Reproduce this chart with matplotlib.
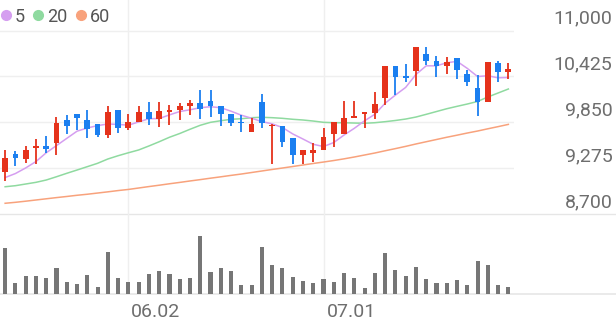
import matplotlib
matplotlib.use('Agg')
import matplotlib.pyplot as plt
from matplotlib.lines import Line2D

# daily candles (50 trading days)
opens = [9230, 9450, 9390, 9530, 9550, 9590, 9880, 9960, 9880, 9830,
         9690, 10000, 9780, 9860, 9980, 9890, 9980, 10000, 10050, 10090,
         10120, 10060, 9950, 9860, 9730, 10110, 9800, 9810, 9650, 9440,
         9470, 9500, 9710, 9700, 9910, 9950, 9970, 10160, 10560, 10430,
         10490, 10710, 10620, 10550, 10650, 10460, 10280, 10110, 10590, 10480]
highs = [9500, 9490, 9560, 9640, 9680, 9920, 9940, 9960, 10000, 9830,
         10060, 10010, 9950, 10050, 10110, 10110, 10070, 10090, 10130, 10250,
         10260, 10060, 9950, 9940, 9900, 10210, 9830, 9810, 9650, 9510,
         9590, 9780, 9860, 10120, 10120, 9980, 10230, 10550, 10560, 10580,
         10790, 10790, 10680, 10670, 10650, 10510, 10440, 10610, 10620, 10590]
lows = [9120, 9300, 9340, 9330, 9470, 9440, 9710, 9750, 9650, 9670,
        9650, 9720, 9750, 9850, 9820, 9790, 9820, 9880, 9940, 9890,
        9920, 9800, 9800, 9730, 9730, 9780, 9330, 9540, 9330, 9330,
        9350, 9500, 9540, 9700, 9910, 9780, 9890, 10070, 10190, 10360,
        10300, 10570, 10420, 10450, 10390, 10310, 9930, 10110, 10350, 10390]
closes = [9410, 9400, 9500, 9550, 9520, 9840, 9810, 9900, 9770, 9690,
          9980, 9780, 9850, 9980, 9890, 9990, 10010, 10060, 10090, 10020,
          10050, 9950, 9840, 9840, 9830, 9840, 9810, 9610, 9440, 9510,
          9510, 9670, 9860, 9910, 9930, 9980, 10080, 10550, 10420, 10410,
          10790, 10620, 10550, 10610, 10500, 10350, 10110, 10600, 10480, 10520]

# moving averages as drawn
ma5 = [9160, 9210, 9280, 9360, 9470, 9560, 9650, 9740, 9780, 9810,
       9830, 9825, 9815, 9856, 9896, 9898, 9944, 9986, 10008, 10034,
       10046, 10034, 9990, 9940, 9902, 9860, 9832, 9786, 9706, 9642,
       9576, 9548, 9598, 9692, 9776, 9870, 9952, 10090, 10192, 10288,
       10450, 10558, 10558, 10596, 10614, 10526, 10424, 10434, 10408, 10412]
ma20 = [9045, 9058, 9079, 9100, 9129, 9170, 9213, 9254, 9296, 9338,
        9392, 9433, 9470, 9505, 9555, 9608, 9664, 9711, 9764, 9814,
        9851, 9871, 9889, 9896, 9909, 9914, 9909, 9901, 9889, 9880,
        9867, 9851, 9846, 9846, 9842, 9839, 9846, 9859, 9874, 9892,
        9917, 9951, 9986, 10021, 10051, 10080, 10112, 10168, 10218, 10268]
ma60 = [8838, 8850, 8864, 8879, 8894, 8909, 8923, 8938, 8951, 8966,
        8981, 8997, 9011, 9029, 9047, 9064, 9082, 9099, 9117, 9134,
        9152, 9169, 9187, 9204, 9223, 9242, 9261, 9279, 9298, 9317,
        9336, 9354, 9373, 9394, 9417, 9442, 9467, 9495, 9522, 9550,
        9580, 9608, 9636, 9664, 9690, 9717, 9742, 9770, 9797, 9825]

# volume (thousand shares)
volumes = [463, 113, 177, 177, 160, 263, 117, 100, 190, 70,
           423, 160, 117, 123, 203, 227, 197, 150, 163, 583,
           220, 257, 230, 87, 90, 470, 287, 260, 167, 127,
           113, 153, 123, 210, 157, 60, 210, 407, 237, 177,
           273, 150, 107, 113, 140, 93, 333, 290, 87, 73]

price_ticks = [11000, 10425, 9850, 9275, 8700]
date_tick_idx = [12, 31]
date_tick_labels = ['06.02', '07.01']

ma_labels = ['5', '20', '60']
ma_colors = ['#d59ef0', '#8fdaa0', '#f8a27c']
UP = '#e5321b'
DOWN = '#1b7ff0'
GRID = '#efefef'
TEXT = '#6e6e6e'

plt.rcParams['font.family'] = ['Roboto', 'DejaVu Sans']

W, H = 616, 321
fig = plt.figure(figsize=(W / 100, H / 100), dpi=100)

# panel geometry in pixels
plot_w = 513.5
price_bottom = 214.3
vol_bottom = 294.0
ax = fig.add_axes([0, 1 - price_bottom / H, plot_w / W, price_bottom / H])
axv = fig.add_axes([0, 1 - vol_bottom / H, plot_w / W, (vol_bottom - price_bottom) / H])

n = len(closes)
xs = list(range(n))
px_per_unit = (214.3 - 30.5) / (11000 - 8700)
ax.set_ylim(8700, 11000 + 30.5 / px_per_unit)
for a in (ax, axv):
    a.set_xlim(-0.5, n - 0.5)
    a.axis('off')

# grid
for p in price_ticks[:-1]:
    ax.axhline(p, color=GRID, linewidth=1.0, zorder=0)
ax.axhline(price_ticks[-1], xmin=0, xmax=W / plot_w, color='#e6e6e6',
           linewidth=1.0, clip_on=False, zorder=0)
for i in date_tick_idx:
    ax.axvline(i, color=GRID, linewidth=1.0, zorder=0)
    axv.axvline(i, color=GRID, linewidth=1.0, zorder=0)

# moving averages
for vals, col in zip([ma60, ma20, ma5], ma_colors[::-1]):
    ax.plot(xs, vals, color=col, linewidth=1.1, zorder=2)

# candles
for i in xs:
    o, h, l, c = opens[i], highs[i], lows[i], closes[i]
    col = UP if c >= o else DOWN
    ax.vlines(i, l, h, color=col, linewidth=1.3, zorder=3)
    ax.bar(i, max(abs(c - o), 15), bottom=min(o, c), width=0.56,
           color=col, linewidth=0, zorder=4)

# price labels on the right, sitting above their grid lines
for p in price_ticks:
    ax.annotate(f'{p:,}', xy=(1, p), xycoords=('axes fraction', 'data'),
                xytext=(99, 7), textcoords='offset pixels',
                ha='right', va='baseline', fontsize=14, color=TEXT)

# volume
axv.set_ylim(0, max(volumes) * (vol_bottom - price_bottom) / 58.3)
axv.bar(xs, volumes, width=0.4, color='#767676', linewidth=0, zorder=2)
axv.axhline(0, xmin=0, xmax=W / plot_w, color='#e6e6e6', linewidth=1.2,
            clip_on=False, zorder=1)
for i, lab in zip(date_tick_idx, date_tick_labels):
    axv.annotate(lab, xy=(i, 0), xycoords=('data', 'axes fraction'),
                 xytext=(3, -23), textcoords='offset pixels',
                 ha='left', va='baseline', fontsize=14, color=TEXT)

# legend
handles = [Line2D([], [], marker='o', linestyle='none', markersize=7,
                  markerfacecolor=c, markeredgecolor=c) for c in ma_colors]
ax.legend(handles, ma_labels, loc='upper left',
          bbox_to_anchor=(-0.005, 1.0 - 4 / price_bottom),
          ncol=3, frameon=False, fontsize=13, labelcolor='#555555',
          handlelength=0.5, handletextpad=0.25, columnspacing=0.5,
          borderaxespad=0.1, borderpad=0.1)

fig.savefig('out.png', dpi=100)
